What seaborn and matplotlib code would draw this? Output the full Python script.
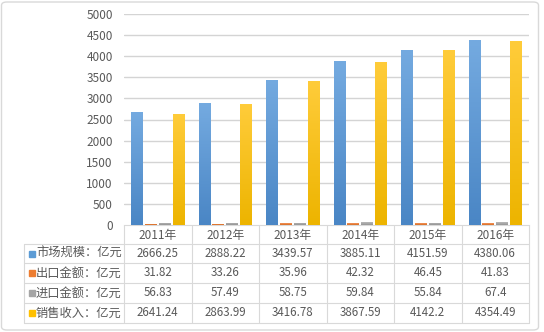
import numpy as np
import pandas as pd
import seaborn as sns
import matplotlib
matplotlib.use("Agg")
import matplotlib.pyplot as plt
from matplotlib.patches import Rectangle, FancyBboxPatch
from matplotlib.lines import Line2D
from matplotlib.transforms import blended_transform_factory
from matplotlib.colors import LinearSegmentedColormap

# ---- data -------------------------------------------------------------
years = ['2011年', '2012年', '2013年', '2014年', '2015年', '2016年']
series_names = ['市场规模：亿元', '出口金额：亿元', '进口金额：亿元', '销售收入：亿元']
market_size = [2666.25, 2888.22, 3439.57, 3885.11, 4151.59, 4380.06]
export_value = [31.82, 33.26, 35.96, 42.32, 46.45, 41.83]
import_value = [56.83, 57.49, 58.75, 59.84, 55.84, 67.4]
sales_revenue = [2641.24, 2863.99, 3416.78, 3867.59, 4142.2, 4354.49]
yticks = [0, 500, 1000, 1500, 2000, 2500, 3000, 3500, 4000, 4500, 5000]

series_values = [market_size, export_value, import_value, sales_revenue]
colors = ['#5B9BD5', '#ED7D31', '#A5A5A5', '#FFC000']
grad_top = ['#74AAE0', '#F2935A', '#B8B8B8', '#FFCC3A']
grad_bot = ['#4A86C5', '#D86C24', '#969696', '#EDB400']

df = pd.DataFrame({
    'year': years * len(series_names),
    'series': [s for s in series_names for _ in years],
    'value': [v for vals in series_values for v in vals],
})

sns.set_theme(style='white')
plt.rcParams['font.family'] = ['Noto Sans CJK SC', 'DejaVu Sans']
text_color = '#595959'
line_color = '#D9D9D9'
grid_color = '#D4D4D4'

fig = plt.figure(figsize=(5.44, 3.32), dpi=100)
ax = fig.add_axes([124 / 544, 107 / 332, 405 / 544, 211 / 332])

# horizontal gridlines
for t in yticks[1:]:
    ax.axhline(t, color=grid_color, lw=1.0, zorder=1)

sns.barplot(data=df, x='year', y='value', hue='series', hue_order=series_names,
            order=years, palette=colors, width=0.82, gap=0.14, legend=False,
            ax=ax, saturation=1, zorder=3)

# vertical gradient fill on each bar
upper_colors = [c.upper() for c in colors]
for patch in list(ax.patches):
    fc = matplotlib.colors.to_hex(patch.get_facecolor()).upper()
    if fc not in upper_colors:
        continue
    idx = upper_colors.index(fc)
    x0, y0 = patch.get_x(), patch.get_y()
    w, h = patch.get_width(), patch.get_height()
    cmap = LinearSegmentedColormap.from_list('g', [grad_bot[idx], grad_top[idx]])
    grad = np.linspace(0, 1, 64).reshape(-1, 1)
    im = ax.imshow(grad, cmap=cmap, origin='lower', aspect='auto',
                   extent=[x0, x0 + w, y0, y0 + h], zorder=4)
    im.set_clip_path(patch)
    patch.set_edgecolor('none')

ax.set_xlim(-0.5, len(years) - 0.5)
ax.set_ylim(0, 5000)
ax.set_yticks(yticks)
ax.set_yticklabels([str(t) for t in yticks], color=text_color, fontsize=8.5)
ax.tick_params(axis='y', length=0, pad=8)
ax.set_xticks([])
ax.set_xlabel('')
ax.set_ylabel('')
for side in ['left', 'right', 'top']:
    ax.spines[side].set_visible(False)
ax.spines['bottom'].set_color(line_color)
ax.spines['bottom'].set_linewidth(0.8)

# ---- data table under the axis ----------------------------------------
tr = blended_transform_factory(ax.transData, ax.transAxes)
px_per_cat = 405 / len(years)
left_x = -0.5 + (24 - 124) / px_per_cat
row_lines = [-(244 - 225) / 211, -(263 - 225) / 211, -(283 - 225) / 211,
             -(303 - 225) / 211, -(323 - 225) / 211]
header_y = -(235 - 225) / 211
row_centers = [(row_lines[i] + row_lines[i + 1]) / 2 for i in range(4)]


def add_line(xs, ys):
    ax.add_line(Line2D(xs, ys, transform=tr, color=line_color, lw=0.8,
                       clip_on=False))


for k in range(len(years) + 1):
    add_line([-0.5 + k, -0.5 + k], [0, row_lines[-1]])
add_line([left_x, left_x], [row_lines[0], row_lines[-1]])
for yl in row_lines:
    add_line([left_x, len(years) - 0.5], [yl, yl])

for i, yr in enumerate(years):
    ax.text(i, header_y, yr, transform=tr, ha='center', va='center',
            fontsize=8.5, color=text_color)

sq_w = 6 / px_per_cat
sq_h = 6 / 211
for r, (name, vals) in enumerate(zip(series_names, series_values)):
    yc = row_centers[r]
    ax.add_patch(Rectangle((-0.5 + (29 - 124) / px_per_cat, yc - sq_h / 2),
                           sq_w, sq_h, transform=tr, color=colors[r],
                           clip_on=False))
    ax.text(-0.5 + (36 - 124) / px_per_cat, yc, name, transform=tr,
            ha='left', va='center', fontsize=8.8, color=text_color)
    for i, v in enumerate(vals):
        ax.text(i, yc, str(v), transform=tr, ha='center', va='center',
                fontsize=8.3, color=text_color)

# outer chart frame
fig.patches.append(FancyBboxPatch((1.5 / 544, 2 / 332), 537 / 544, 328 / 332,
                                  boxstyle='round,pad=0,rounding_size=0.01',
                                  transform=fig.transFigure, fill=False,
                                  edgecolor=line_color, lw=1))

fig.savefig('out.png', dpi=100)
